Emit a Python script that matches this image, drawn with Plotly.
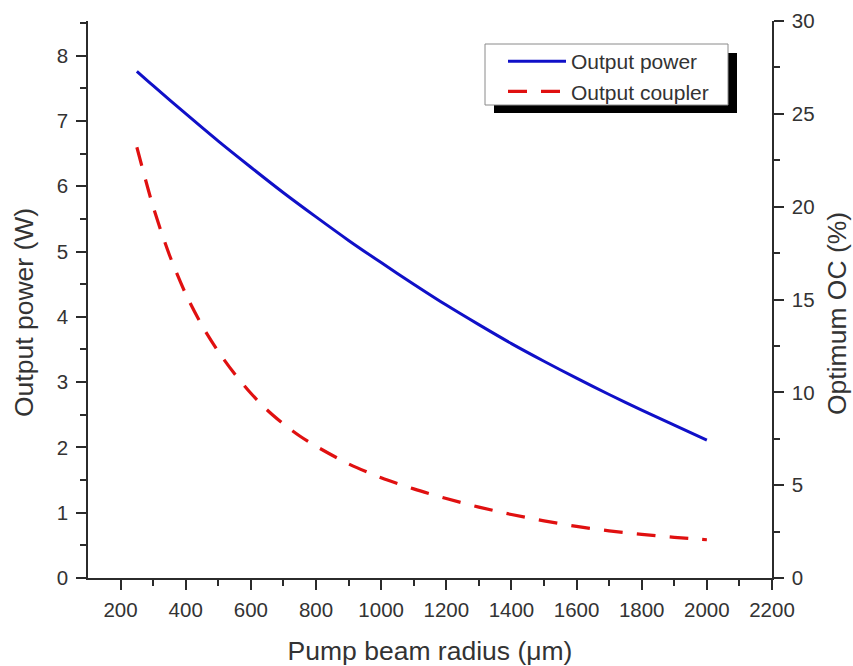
import plotly.graph_objects as go

# Pump beam radius (µm) and the laser output power (W)
radius_power = [250, 300, 400, 500, 600, 700, 800, 900, 1000, 1100,
                1200, 1300, 1400, 1500, 1600, 1700, 1800, 1900, 2000]
output_power = [7.76, 7.54, 7.11, 6.69, 6.29, 5.90, 5.53, 5.17, 4.83, 4.50,
                4.18, 3.88, 3.59, 3.32, 3.06, 2.81, 2.57, 2.34, 2.11]

# Pump beam radius (µm) and the optimum output-coupler transmission (%)
radius_oc = [250, 300, 350, 400, 450, 500, 550, 600, 650, 700, 750, 800,
             900, 1000, 1100, 1200, 1300, 1400, 1500, 1600, 1700, 1800, 1900, 2000]
optimum_oc = [23.2, 20.0, 17.4, 15.3, 13.6, 12.2, 11.0, 9.95, 9.05, 8.3, 7.65, 7.1,
              6.15, 5.4, 4.8, 4.28, 3.82, 3.42, 3.08, 2.78, 2.54, 2.35, 2.19, 2.06]

x_major = [200, 400, 600, 800, 1000, 1200, 1400, 1600, 1800, 2000, 2200]
x_minor = [300, 500, 700, 900, 1100, 1300, 1500, 1700, 1900, 2100]

FONT = "Arial, Liberation Sans, sans-serif"
INK = "#333333"
AXIS = "#2b2b2b"
TICK_SIZE = 20.5
TITLE_SIZE = 26.5

fig = go.Figure()
fig.add_trace(go.Scatter(
    x=radius_power, y=output_power, name="Output power",
    mode="lines", line=dict(color="#1010c8", width=3, shape="spline", smoothing=0.8),
    xaxis="x", yaxis="y"))
fig.add_trace(go.Scatter(
    x=radius_oc, y=optimum_oc, name="Output coupler",
    mode="lines", line=dict(color="#e01010", width=3.2, dash="19px,14px",
                            shape="spline", smoothing=0.8),
    xaxis="x", yaxis="y2"))

common = dict(showgrid=False, zeroline=False, showline=True, automargin=False,
              linecolor=AXIS, linewidth=1.5, tickcolor=AXIS, tickwidth=1.5)

fig.update_layout(
    width=853, height=666,
    margin=dict(l=88, r=81, t=21, b=88),
    paper_bgcolor="white", plot_bgcolor="white",
    font=dict(family=FONT, color=INK),
    xaxis=dict(
        **common, range=[100, 2200], tickmode="array", tickvals=x_major,
        ticks="outside", ticklen=10, ticklabelstandoff=3,
        minor=dict(tickmode="array", tickvals=x_minor, ticks="outside",
                   ticklen=6, tickcolor=AXIS, tickwidth=1.5),
        tickfont=dict(family=FONT, size=TICK_SIZE, color=INK),
        title=dict(text="Pump beam radius (μm)", standoff=21,
                   font=dict(family=FONT, size=TITLE_SIZE, color=INK)),
        anchor="y"),
    xaxis2=dict(
        **common, range=[100, 2200], overlaying="x", side="top", anchor="y",
        tickmode="array", tickvals=x_major, ticks="inside", ticklen=9,
        showticklabels=False,
        minor=dict(tickmode="array", tickvals=x_minor, ticks="inside",
                   ticklen=5, tickcolor=AXIS, tickwidth=1.5)),
    yaxis=dict(
        **common, range=[0, 8.53], dtick=1, tick0=0,
        ticks="outside", ticklen=10, ticklabelstandoff=4,
        minor=dict(dtick=0.5, tick0=0, ticks="outside", ticklen=6,
                   tickcolor=AXIS, tickwidth=1.5),
        tickfont=dict(family=FONT, size=TICK_SIZE, color=INK),
        anchor="x"),
    yaxis2=dict(
        **common, range=[0, 30], dtick=5, tick0=0, overlaying="y", side="right",
        ticks="outside", ticklen=10, ticklabelstandoff=4, anchor="x",
        minor=dict(dtick=2.5, tick0=0, ticks="outside", ticklen=6,
                   tickcolor=AXIS, tickwidth=1.5),
        tickfont=dict(family=FONT, size=TICK_SIZE, color=INK)),
    legend=dict(
        x=(503 - 88) / 684, y=(578 - 41) / 557, xanchor="left", yanchor="top",
        bgcolor="rgba(0,0,0,0)", borderwidth=0, itemwidth=58,
        font=dict(family=FONT, size=21, color=INK),
        tracegroupgap=0),
    showlegend=True,
)

# y-axis titles
px_x = lambda p: (p - 88) / 684
px_y = lambda p: (578 - p) / 557
fig.add_annotation(text="Output power (W)", xref="paper", yref="paper",
                   x=px_x(24), y=px_y(313), xanchor="center", yanchor="middle",
                   textangle=-90, showarrow=False,
                   font=dict(family=FONT, size=TITLE_SIZE, color=INK))
fig.add_annotation(text="Optimum OC (%)", xref="paper", yref="paper",
                   x=px_x(837), y=px_y(314), xanchor="center", yanchor="middle",
                   textangle=-90, showarrow=False,
                   font=dict(family=FONT, size=TITLE_SIZE, color=INK))

# legend frame with a drop shadow
fig.add_shape(type="rect", xref="paper", yref="paper", layer="above",
              x0=px_x(494), x1=px_x(737), y0=px_y(113), y1=px_y(53),
              fillcolor="black", line=dict(width=0))
fig.add_shape(type="rect", xref="paper", yref="paper", layer="above",
              x0=px_x(485), x1=px_x(728), y0=px_y(105), y1=px_y(44),
              fillcolor="white", line=dict(color="#8a8a8a", width=1))

fig.write_html("out.html")
